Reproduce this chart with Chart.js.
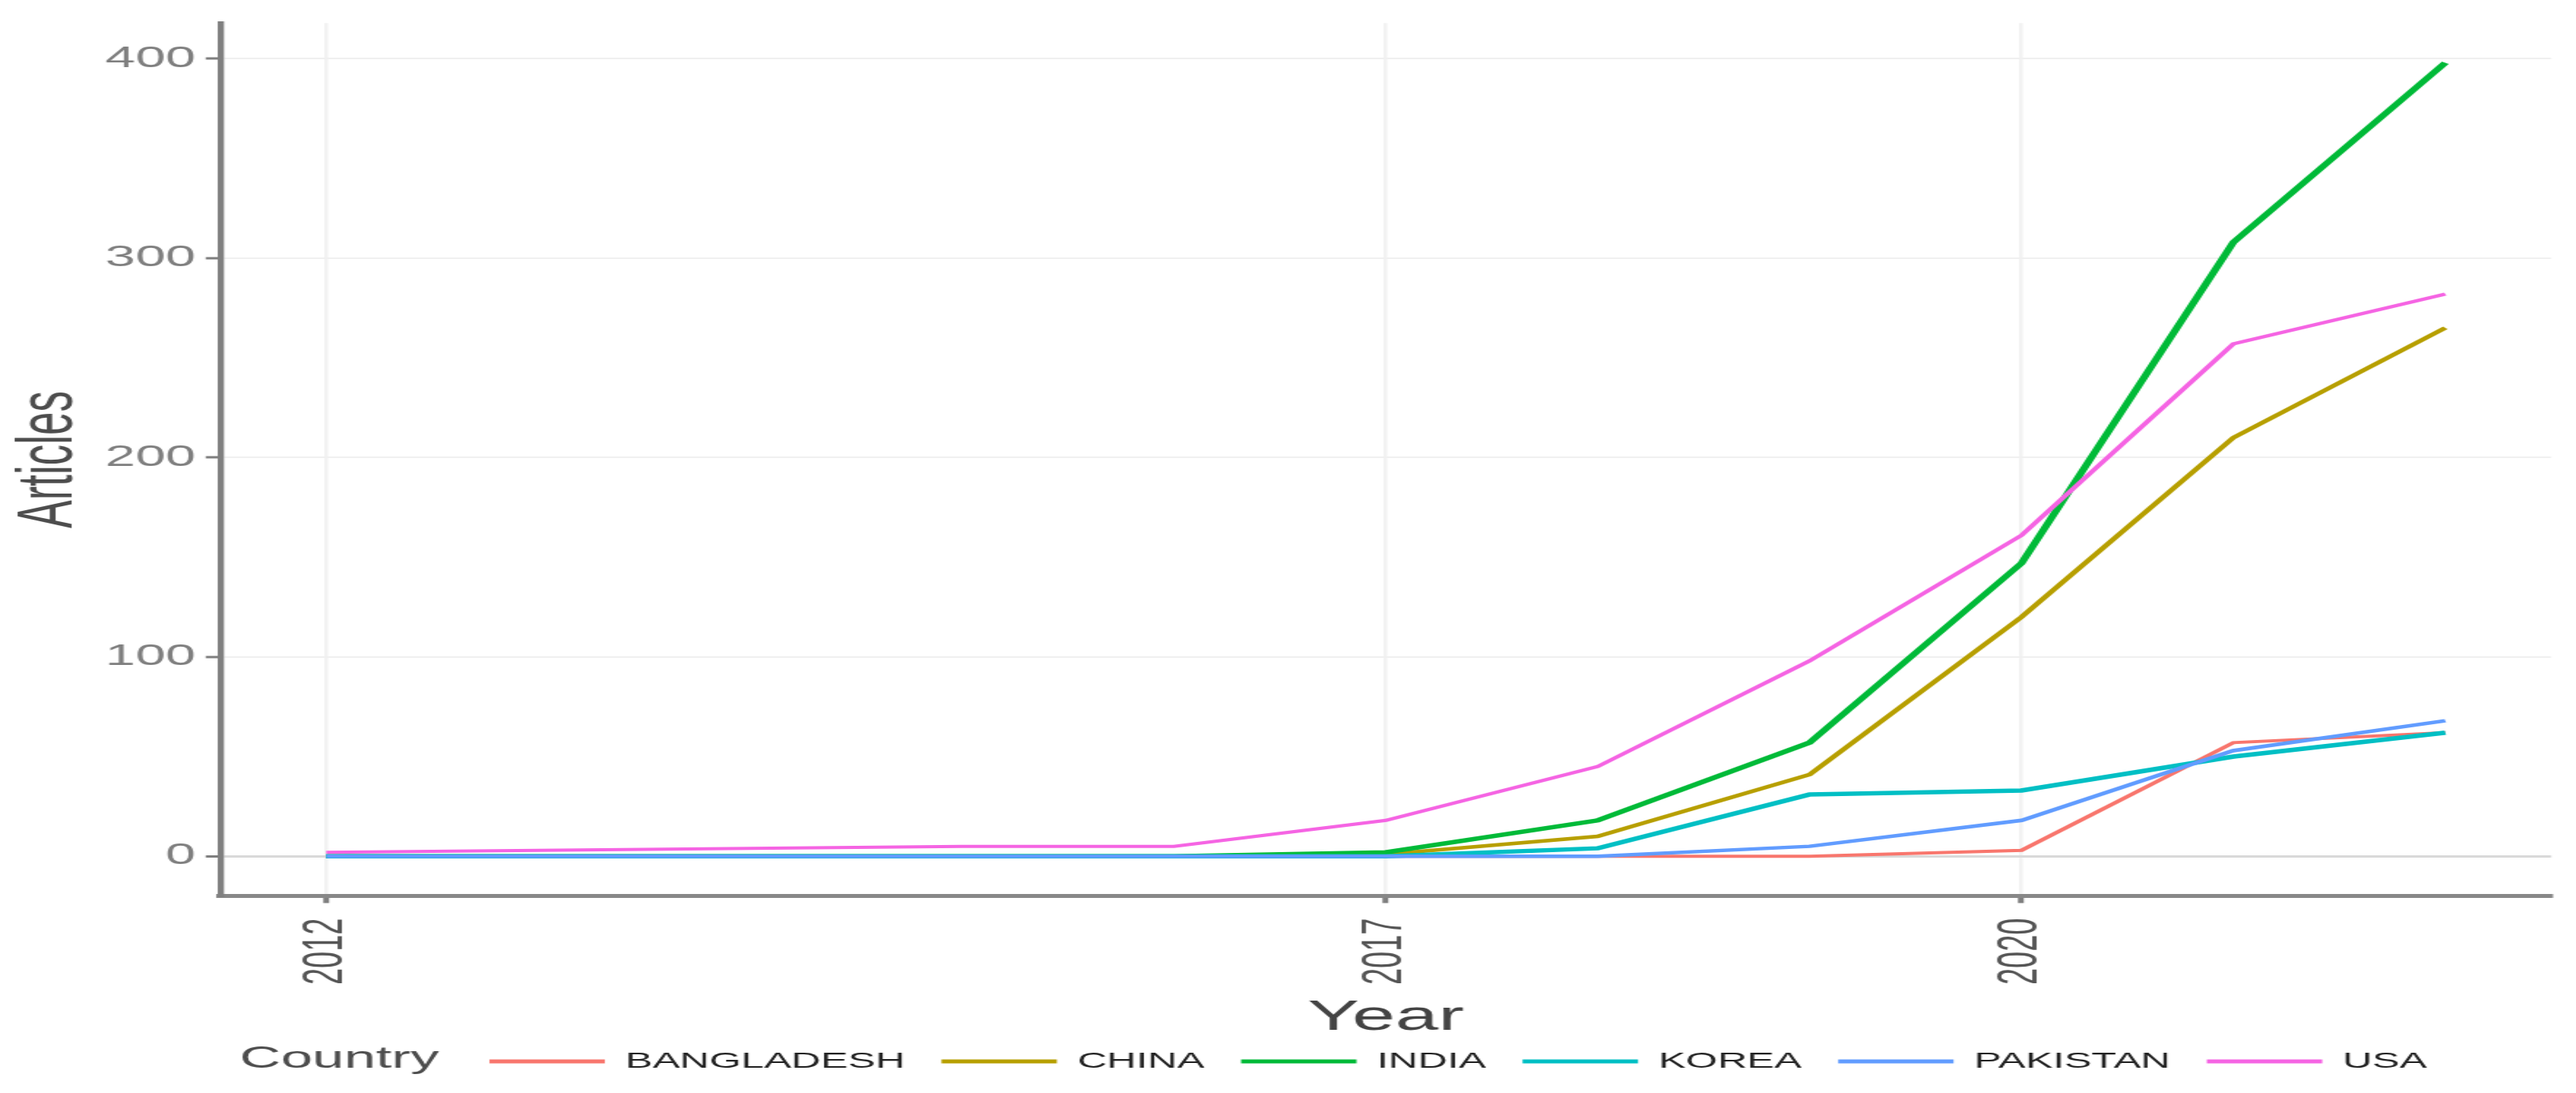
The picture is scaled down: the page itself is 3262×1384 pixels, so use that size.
<!DOCTYPE html>
<html>
<head>
<meta charset="utf-8">
<script src="https://cdn.jsdelivr.net/npm/chart.js@4.4.1/dist/chart.umd.min.js"></script>
<style>
  html, body { margin: 0; padding: 0; background: #fff; overflow: hidden; }
  /* the original picture is stretched sideways, so draw narrow and stretch */
  #wrap { width: 1763px; height: 1384px; transform: scaleX(1.85); transform-origin: 0 0; }
</style>
</head>
<body>
<div id="wrap"><canvas id="myChart"></canvas></div>
<script>
const years = [2012, 2013, 2014, 2015, 2016, 2017, 2018, 2019, 2020, 2021, 2022];
const countries = ['BANGLADESH', 'CHINA', 'INDIA', 'KOREA', 'PAKISTAN', 'USA'];

const bangladesh = [0, 0, 0, 0, 0, 0, 0, 0, 3, 57, 62];
const china      = [0, 0, 0, 0, 0, 1, 10, 41, 120, 210, 265];
const india      = [0, 0, 0, 0, 0, 2, 18, 57, 147, 308, 398];
const korea      = [0, 0, 0, 0, 0, 0, 4, 31, 33, 50, 62];
const pakistan   = [0, 0, 0, 0, 0, 0, 0, 5, 18, 53, 68];
const usa        = [2, 3, 4, 5, 5, 18, 45, 98, 161, 257, 282];

const xTicks = [2012, 2017, 2020];
const yTicks = [0, 100, 200, 300, 400];

const series = [bangladesh, china, india, korea, pakistan, usa];
const colors = ['#F8766D', '#B79F00', '#00BA38', '#00BFC4', '#619CFF', '#F564E3'];
const widths = [4, 4.5, 5.5, 5.5, 4.5, 4];

const FONT = '"Liberation Sans", Arial, sans-serif';

const legendSpot = {
  id: 'legendSpot',
  beforeDraw(chart) {
    chart.legend.left = 310;
    chart.legend.top = 1305;
  },
  afterDraw(chart) {
    const ctx = chart.ctx;
    ctx.save();
    ctx.font = '39px ' + FONT;
    ctx.fillStyle = '#4d4d4d';
    ctx.textAlign = 'left';
    ctx.textBaseline = 'middle';
    ctx.fillText('Country', 164, 1341);
    ctx.restore();
  }
};

const ctx = document.getElementById('myChart');

new Chart(ctx, {
  type: 'line',
  data: {
    datasets: countries.map((name, i) => ({
      label: name,
      data: years.map((yr, j) => ({ x: yr, y: series[i][j] })),
      borderColor: colors[i],
      backgroundColor: colors[i],
      borderWidth: widths[i],
      pointRadius: 0,
      tension: 0,
      fill: false,
      order: countries.length - i,
    })),
  },
  options: {
    responsive: true,
    maintainAspectRatio: false,
    animation: false,
    layout: { padding: { top: 29, right: 16.7, left: 0, bottom: 0 } },
    plugins: {
      tooltip: { enabled: false },
      legend: {
        position: 'bottom',
        align: 'start',
        labels: {
          boxWidth: 79,
          boxHeight: 5,
          padding: 25,
          color: '#222',
          font: { size: 28, family: FONT },
          sort: (a, b) => a.datasetIndex - b.datasetIndex,
          generateLabels: chart =>
            Chart.defaults.plugins.legend.labels.generateLabels(chart)
              .map(it => ({ ...it, lineWidth: 0 })),
        },
      },
    },
    scales: {
      x: {
        type: 'linear',
        min: 2011.5,
        max: 2022.5,
        afterBuildTicks: s => { s.ticks = xTicks.map(v => ({ value: v })); },
        afterFit: s => { s.height = 1384 - 1134.5 - 63; },
        grid: { color: '#f2f2f2', lineWidth: 2.5, tickLength: 9, tickColor: '#7f7f7f', tickWidth: 4 },
        border: { color: '#888', width: 5 },
        ticks: {
          font: { size: 38, family: FONT },
          color: '#555',
          padding: 19,
          minRotation: 90,
          maxRotation: 90,
          autoSkip: false,
          callback: v => String(v),
        },
        title: { display: true, text: 'Year', color: '#444', font: { size: 53, family: FONT }, padding: 0 },
      },
      y: {
        min: -19.9,
        max: 417.9,
        afterBuildTicks: s => { s.ticks = yTicks.map(v => ({ value: v })); },
        afterFit: s => { s.width = 150.8; },
        grid: {
          color: c => (c.tick && c.tick.value === 0 ? '#d9d9d9' : '#f0f0f0'),
          lineWidth: c => (c.tick && c.tick.value === 0 ? 3 : 2),
          tickLength: 10,
          tickColor: '#7f7f7f',
          tickWidth: 3,
        },
        border: { color: '#808080', width: 4.3 },
        ticks: { font: { size: 37, family: FONT }, color: '#7f7f7f', padding: 7 },
        title: { display: true, text: 'Articles', color: '#4d4d4d', font: { size: 53, family: FONT }, padding: { top: 3, bottom: 0 } },
      },
    },
  },
  plugins: [legendSpot],
});
</script>
</body>
</html>
